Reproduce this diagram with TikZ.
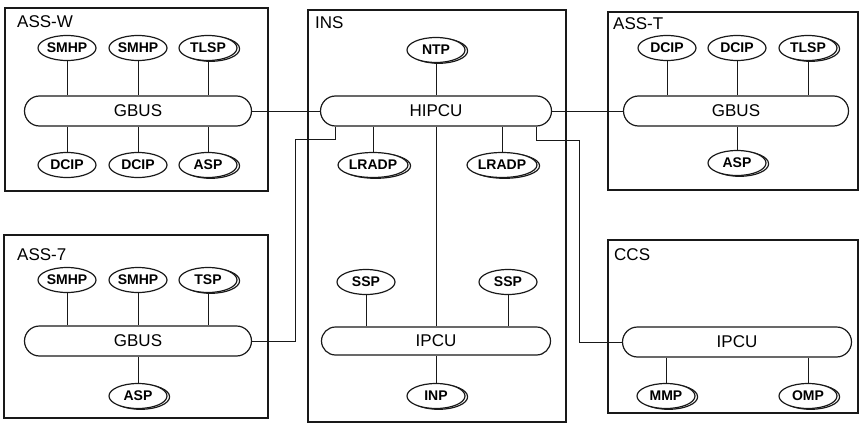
\documentclass[tikz,border=0pt]{standalone}
\usepackage{fontspec}
\setmainfont{Liberation Sans}
\usetikzlibrary{shapes.geometric,shadows,calc}
\definecolor{figline}{RGB}{25,25,25}
\tikzset{
  unit/.style ={draw=figline, line width=1.8pt},
  ttl/.style  ={font=\fontsize{17}{17}\selectfont, anchor=north west, inner sep=0pt},
  bus/.style  ={draw=figline, line width=1.2pt, fill=white, rectangle, rounded corners=15pt,
                minimum height=30pt, font=\fontsize{17}{17}\selectfont},
  prc/.style  ={draw=figline, line width=1.2pt, fill=white, ellipse, minimum width=58pt,
                minimum height=25pt, inner sep=0pt, font=\fontsize{14}{14}\selectfont\bfseries},
  prcd/.style ={prc, copy shadow={shadow xshift=2.6pt, shadow yshift=-0.8pt}},
  lnk/.style  ={draw=figline, line width=0.9pt},
}
\begin{document}
\begin{tikzpicture}[x=1pt,y=-1pt]
  \useasboundingbox (0,0) rectangle (860,431);
  % ASS-W
  \draw[unit] (5,8) rectangle (268,191);
  \node[ttl] (tassw) at (17,15) {ASS-W};
  \node[bus,minimum width=227pt] (gbusW) at (138,111) {GBUS};
  \node[prc] (smhpA) at (67,48) {SMHP};
  \node[prc] (smhpB) at (138,48) {SMHP};
  \node[prcd] (tlspW) at (208,48) {TLSP};
  \node[prc] (dcipA) at (67,165) {DCIP};
  \node[prc] (dcipB) at (138,165) {DCIP};
  \node[prcd] (aspW) at (208,165) {ASP};
  \draw[lnk] (smhpA) -- (smhpA |- gbusW.north);
  \draw[lnk] (smhpB) -- (smhpB |- gbusW.north);
  \draw[lnk] (tlspW) -- (tlspW |- gbusW.north);
  \draw[lnk] (dcipA) -- (dcipA |- gbusW.south);
  \draw[lnk] (dcipB) -- (dcipB |- gbusW.south);
  \draw[lnk] (aspW) -- (aspW |- gbusW.south);
  % INS
  \draw[unit] (308,10) rectangle (566,422);
  \node[ttl] (tins) at (315,16) {INS};
  \node[bus,minimum width=231pt] (hipcu) at (436,111) {HIPCU};
  \node[prcd] (ntp) at (436,50) {NTP};
  \node[prcd,minimum width=70pt] (lradpA) at (373,165) {LRADP};
  \node[prcd,minimum width=70pt] (lradpB) at (502,165) {LRADP};
  \node[bus,minimum width=229pt,minimum height=28pt,rounded corners=14pt] (ipcuI) at (436,341) {IPCU};
  \node[prc] (sspA) at (366,282) {SSP};
  \node[prc] (sspB) at (508,282) {SSP};
  \node[prcd] (inp) at (436,396) {INP};
  \draw[lnk] (ntp) -- (ntp |- hipcu.north);
  \draw[lnk] (lradpA) -- (lradpA |- hipcu.south);
  \draw[lnk] (lradpB) -- (lradpB |- hipcu.south);
  \draw[lnk] (hipcu.south) -- (ipcuI.north);
  \draw[lnk] (sspA) -- (sspA |- ipcuI.north);
  \draw[lnk] (sspB) -- (sspB |- ipcuI.north);
  \draw[lnk] (inp) -- (inp |- ipcuI.south);
  % ASS-T
  \draw[unit] (608,12) rectangle (858,190);
  \node[ttl] (tasst) at (613,17) {ASS-T};
  \node[bus,minimum width=225pt] (gbusT) at (736,111) {GBUS};
  \node[prc] (dcipC) at (667,48) {DCIP};
  \node[prc] (dcipD) at (737,48) {DCIP};
  \node[prcd] (tlspT) at (808,48) {TLSP};
  \node[prcd] (aspT) at (737,163) {ASP};
  \draw[lnk] (dcipC) -- (dcipC |- gbusT.north);
  \draw[lnk] (dcipD) -- (dcipD |- gbusT.north);
  \draw[lnk] (tlspT) -- (tlspT |- gbusT.north);
  \draw[lnk] (aspT) -- (aspT |- gbusT.south);
  % ASS-7
  \draw[unit] (4,235) rectangle (268,418);
  \node[ttl] (tass7) at (17,248) {ASS-7};
  \node[bus,minimum width=227pt] (gbus7) at (138,341) {GBUS};
  \node[prc] (smhpC) at (67,280) {SMHP};
  \node[prc] (smhpD) at (138,280) {SMHP};
  \node[prcd] (tsp) at (208,280) {TSP};
  \node[prcd] (asp7) at (138,396) {ASP};
  \draw[lnk] (smhpC) -- (smhpC |- gbus7.north);
  \draw[lnk] (smhpD) -- (smhpD |- gbus7.north);
  \draw[lnk] (tsp) -- (tsp |- gbus7.north);
  \draw[lnk] (asp7) -- (asp7 |- gbus7.south);
  % CCS
  \draw[unit] (608,240) rectangle (858,413);
  \node[ttl] (tccs) at (614,248) {CCS};
  \node[bus,minimum width=229pt] (ipcuC) at (737,342) {IPCU};
  \node[prcd] (mmp) at (666,396) {MMP};
  \node[prcd] (omp) at (808,396) {OMP};
  \draw[lnk] (mmp) -- (mmp |- ipcuC.south);
  \draw[lnk] (omp) -- (omp |- ipcuC.south);
  % links between units
  \draw[lnk] (gbusW.east) -- (hipcu.west);
  \draw[lnk] (hipcu.east) -- (gbusT.west);
  \draw[lnk] ([xshift=16pt]hipcu.south west) -- ++(0,13) -| ($(gbus7.east)+(43,0)$) -- (gbus7.east);
  \draw[lnk] ([xshift=-16pt]hipcu.south east) -- ++(0,14) -| ($(ipcuC.west)+(-42,0)$) -- (ipcuC.west);
\end{tikzpicture}
\end{document}
